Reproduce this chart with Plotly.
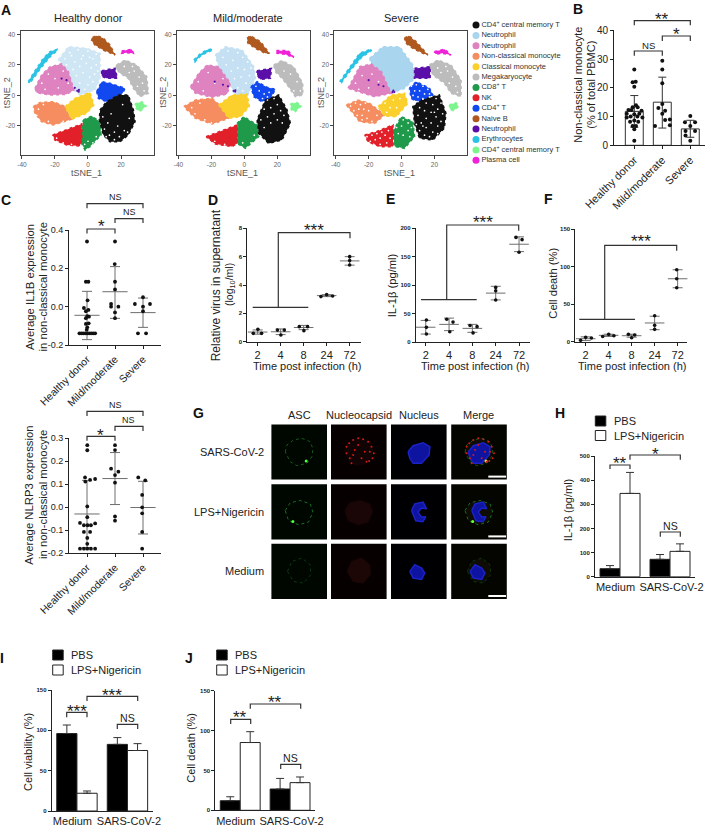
import plotly.graph_objects as go

W, H = 709, 827
FONT = "Liberation Sans"
INK = "#222222"
GREY = "#6e6e6e"

# panel A: cell types and colours of the legend
cell_types = ["CD4<sup>+</sup> central memory T", "Neutrophil", "Neutrophil", "Non-classical monocyte",
              "Classical monocyte", "Megakaryocyte", "CD8<sup>+</sup> T", "NK", "CD4<sup>+</sup> T", "Naive B",
              "Neutrophil", "Erythrocytes", "CD4<sup>+</sup> central memory T", "Plasma cell"]
cell_colors = ["#111111", "#a9d5ee", "#de82c0", "#f58d60", "#fbd02c", "#bcbcbc", "#1f9a4a", "#e2202a",
               "#1248f0", "#b0591f", "#5a10a8", "#2bc3e4", "#7df58e", "#f022d8"]

# panel A: cluster outlines, (tSNE_1, tSNE_2)
hd_ery = [(-36.2, 9), (-33.1, 14.5), (-27, 24.3), (-23, 28.7), (-18.6, 30.2), (-18.6, 29.3), (-22, 26.5), (-28, 18.8), (-33, 11.2), (-35.6, 8)]
hd_brown = [(2.8, 38), (5.3, 39.1), (9.3, 37.4), (13.3, 33), (16.4, 26.5), (14.3, 27.6), (9.3, 29.7), (4.2, 33), (2.2, 35.9)]
hd_plasma = [(20.4, 29), (26.5, 30.2), (27.5, 27.6), (23.4, 28), (20.4, 27.6)]
hd_purple = [(8.3, 16.2), (16.4, 17.7), (17.8, 11.2), (11.3, 11.2), (8.3, 12.7)]
hd_mega = [(17.4, 19.9), (22.4, 23.2), (29.5, 19.9), (35.6, 12.3), (36.6, 1.4), (31.5, -0.8), (27.5, 4.7), (24.4, 11.2), (19.4, 14.5), (17, 17.7)]
hd_pink = [(-32.1, 4.7), (-28.1, 13.4), (-23, 18.8), (-16, 20.6), (-11.9, 15.6), (-8.5, 3.6), (-12.9, 0.7), (-23, 0.3), (-31.1, 1.8)]
hd_lblue = [(-18, 23.2), (-11.9, 31.9), (-0.8, 30.8), (7.3, 27.6), (7.3, 11.2), (4.2, 3.6), (-4.9, 0.3), (-8.5, 3.6), (-11.9, 15.6), (-16, 20.6)]
hd_orange = [(-33.1, -7.3), (-29.1, -4.7), (-21, -4.1), (-13.9, -7.3), (-9.9, -15.6), (-21, -19.3), (-28.1, -17.2), (-32.1, -11.7)]
hd_yellow = [(-13.9, -7.3), (-7.9, -1.9), (1.2, 2), (3.6, -6.3), (-0.8, -11.7), (-9.9, -15.6)]
hd_green = [(-2.8, -16.1), (2.2, -13.5), (7.3, -17.2), (7.9, -25.9), (1.2, -33.5), (-1.8, -35.7), (-4.9, -29.2), (-3.8, -21.5)]
hd_red = [(-21.4, -25.9), (-15, -23.1), (-3.8, -18.7), (-3.8, -29.2), (-4.9, -33.1), (-12.9, -32.4), (-20, -29.2)]
hd_blue = [(5.3, 2.5), (8.3, 9), (13.3, 7.9), (22.4, 4.7), (21, 1.4), (15.4, -1.9), (11.3, -4.1), (6.3, -1.9)]
hd_black = [(18.4, 0.3), (24.4, 0.3), (27.5, -9.5), (28.5, -17.2), (24.4, -25.9), (19.4, -30.3), (13.3, -30.3), (9.3, -25.9), (6.9, -16.1), (7.3, -9.5), (11.3, -4.1)]
hd_lgreen = [(28.5, -5.6), (32.5, -4.1), (35.2, -6.9), (31.5, -10.6), (29.1, -8.4)]

mm_ery = [(-30.7, 23.2), (-27, 27), (-23, 29.7), (-19.6, 30.5), (-19.6, 29.5), (-23, 28), (-27, 25.5), (-30, 22)]
mm_brown = [(1.6, 37.4), (3.6, 39.1), (9.7, 35.2), (15.2, 27.6), (12.7, 27.6), (6.7, 30.8), (2.2, 34.1)]
mm_plasma = [(19.4, 29.3), (26.5, 29.3), (30, 24.9), (24.8, 26.9), (19.8, 27.6)]
mm_purple = [(7.7, 16.2), (16.4, 17.7), (15.8, 11.2), (9.7, 10.5), (7.7, 13.4)]
mm_mega = [(17.8, 19.9), (22.8, 22.8), (29.9, 18.8), (35.4, 7.9), (35.4, 0.3), (30.9, -0.8), (26.9, 5.7), (22.8, 11.2), (18.8, 15.6)]
mm_pink = [(-32.7, 5.7), (-27.7, 14.5), (-22.6, 19.9), (-15.6, 18.8), (-8.5, 7.9), (-10.5, 0.9), (-19.6, -1.2), (-29.7, 1.4)]
mm_lblue = [(-17.6, 26.5), (-11.5, 31.9), (-1.4, 29.7), (5.7, 18.8), (6.7, 11.2), (1.6, -0.8), (-6.5, 1.4), (-8.5, 7.9), (-15.6, 18.8)]
mm_orange = [(-36.8, -7.3), (-29.7, -3), (-19.6, -1.9), (-13.1, -8.4), (-9.5, -15), (-19.6, -18.7), (-29.7, -15)]
mm_yellow = [(-15.6, -6.3), (-7.5, 0.3), (1.6, 0.9), (3, -7.3), (-2.4, -13.9), (-9.5, -15)]
mm_green = [(-4.4, -18.3), (-0.4, -13.9), (7.7, -19.3), (8.7, -27), (0.6, -34.6), (-4.4, -31.4)]
mm_red = [(-23.2, -27), (-15.6, -23.7), (-4.4, -19.3), (-4.4, -31.4), (-7.5, -33.5), (-17.6, -31.8)]
mm_blue = [(4, 5.7), (7.7, 9), (13.7, 5.3), (18.8, 4), (15.8, -1.9), (10.7, -4.1), (5.7, -0.8)]
mm_black = [(12.7, -3), (20.8, 0.3), (25.9, -9.5), (27.9, -18.3), (22.8, -29.2), (14.7, -31.4), (8.7, -24.8), (7.7, -16.1)]
mm_lgreen = [(27.9, -5.6), (31.9, -4.7), (34.5, -6.9), (30.9, -10.6), (28.5, -9.5)]

sv_ery = [(-37.6, 9), (-31.5, 18.8), (-25.5, 27.6), (-18.4, 30.4), (-18.4, 29.3), (-24.4, 24.9), (-30.5, 17.1), (-36.6, 8.4)]
sv_brown = [(1.8, 37.4), (4.4, 39.1), (8.9, 35.2), (16, 26.5), (13, 27.6), (6.9, 30.8), (2.8, 34.1)]
sv_plasma = [(20, 28.7), (26.1, 30.2), (30.1, 26.5), (25, 27.6), (20.6, 27.1)]
sv_purple = [(7.9, 17.7), (17.4, 18.8), (17.4, 11.2), (7.9, 11.2)]
sv_mega = [(17, 19.9), (22, 23.2), (30.1, 19.9), (36.2, 10.1), (36.2, -0.8), (30.1, 1.4), (26.1, 7.9), (19, 13.4)]
sv_pink = [(-32.5, 4.7), (-30.5, 9), (-25.5, 18.8), (-18.4, 20.6), (-12.3, 15.6), (-6.2, 1.4), (-16.4, -0.8), (-26.5, 2.5)]
sv_lblue = [(-19.4, 24.3), (-11.3, 31.9), (-1.2, 31.9), (6.9, 19.9), (7.9, 11.2), (1.8, 4.7), (-6.2, 1.4), (-12.3, 15.6), (-18.4, 20.6)]
sv_orange = [(-33.5, -6.3), (-26.5, -3), (-19.4, -5.2), (-10.3, -12.8), (-16.4, -18.3), (-25.5, -17.2)]
sv_yellow = [(-14.3, -7.3), (-6.2, 0.3), (1.8, 1.4), (3.8, -5.2), (-3.2, -13.9), (-10.3, -13.5)]
sv_green = [(-5.2, -23.7), (-0.2, -13.9), (6.9, -17.2), (7.9, -27), (1.8, -34.6), (-4.2, -33.5)]
sv_red = [(-22.4, -25.9), (-15.3, -23.7), (-5.2, -19.3), (-5.2, -33.5), (-13.3, -33.5), (-20.4, -30.3)]
sv_blue = [(4.8, 4.7), (8.9, 9), (17, 4.7), (19, 0.3), (10.9, -5.2), (5.9, -1.9)]
sv_black = [(11.9, -3), (23, 0.3), (27, -11.7), (26, -21.5), (19, -29.2), (10.9, -28), (7.9, -18.3), (6.9, -7.3)]
sv_lgreen = [(29.1, -6.3), (33.1, -4.7), (34.7, -7.3), (31.5, -10), (29.5, -9.1)]

hd_gaps = [(-14, 24), (-11, 28), (-8, 22), (-6, 30), (-3, 26), (0, 29), (3, 24), (5, 27), (-13, 20), (-9, 17), (-5, 19), (-1, 21), (2, 18), (5, 20),
           (-7, 13), (-3, 15), (1, 12), (4, 14), (-5, 8), (0, 7), (3, 9), (-2, 4), (-10, 26), (-4, 24), (1, 25), (6, 16),
           (10, -22), (13, -26), (16, -24), (19, -27), (22, -23), (12, -18), (18, -20), (25, -15), (14, -12), (9, -14), (21, -6), (24, -24), (16, -29), (11, -27),
           (-30, -9), (-27, -6), (-31, -13), (-24, -17), (-15, -17), (-19, -28), (-15, -31), (-10, -32), (-2, -32), (0, -30), (3, -31), (5, -27),
           (25, 15), (28, 16), (31, 12), (33, 8), (34, 3), (30, 6), (22, 19), (27, 19), (-28, 8), (-24, 14), (-20, 11), (-15, 16), (-26, 4), (-18, 5), (-12, 8)]
mm_gaps = [(-13, 25), (-10, 29), (-7, 23), (-4, 28), (-1, 25), (2, 22), (4, 18), (-11, 20), (-8, 16), (-4, 18), (0, 17), (3, 13), (-6, 11), (-2, 12), (1, 8), (-4, 5), (-1, 3),
           (14, -3), (18, -2), (20, -6), (16, -8), (12, -9), (22, -10), (18, -12), (14, -14), (24, -13), (10, -16), (20, -16), (16, -18), (23, -18), (12, -21),
           (9, 3), (12, 1), (15, 2), (11, -2), (14, -1), (7, 6),
           (-32, -8), (-27, -5), (-30, -12), (-24, -16), (-20, -18), (-18, -30), (-12, -32), (4, -31), (6, -26), (-1, -31),
           (24, 16), (28, 14), (32, 9), (34, 3), (30, 3), (-28, 9), (-22, 15), (-18, 8), (-25, 3), (-13, 11)]
sv_gaps = [(13, -2), (17, -1), (21, -2), (24, -5), (15, -5), (19, -6), (11, -8), (22, -9), (14, -10), (18, -11), (25, -12), (10, -13), (21, -14), (15, -15), (24, -17), (12, -18),
           (18, -18), (9, -19), (22, -20), (15, -21), (11, -23), (19, -24), (14, -26), (22, -25), (17, -27), (13, -20), (20, -11), (10, -4),
           (6, 6), (9, 7), (13, 6), (16, 4), (8, 3), (11, 3), (14, 1), (17, 1), (7, 0), (10, -1), (13, -2.5), (9, -4),
           (-31, -7), (-28, -5), (-25, -6), (-22, -5), (-29, -10), (-26, -9), (-23, -9), (-27, -13), (-24, -13), (-20, -10), (-21, -15), (-18, -17), (-24, -16), (-15, -13),
           (-21, -27), (-18, -26), (-15, -25), (-12, -24), (-19, -30), (-16, -29), (-13, -28), (-10, -26), (-8, -23), (-17, -32), (-13, -32), (-9, -31), (-7, -28),
           (-3, -17), (1, -16), (4, -18), (-3, -21), (0, -20), (4, -23), (6, -21), (-2, -25), (1, -26), (5, -27),
           (24, 15), (28, 16), (31, 12), (33, 6), (34, 2), (29, 8), (22, 18), (27, 19), (-28, 8), (-24, 13), (-20, 5), (-14, 9), (-26, 4), (-18, 14),
           (-10, -5), (-5, -3), (-1, -2), (-7, -8), (-3, -8), (-9, -11)]
hd_strays = [(-6.5, 3), (-5.5, 3.6), (-16, 11), (-13, 10), (-8, 5), (-5.6, 2.4)]
mm_strays = [(-6.5, 3), (-5.5, 3.4), (-18, 9), (-13, 7), (-10, 6), (-5.6, 2.5)]
sv_strays = [(-5.5, 2.2), (-5, 3.2), (-4.4, 2.2), (-20, 10), (-11, 6), (-14, 7)]

# panel B and C groups
groups = ["Healthy donor", "Mild/moderate", "Severe"]

b_means = [11.8, 15, 5.7]
b_up = [5.5, 8.7, 3.0]
b_down = [5.5, 9.0, 2.9]
b_x = [0, -.06, .05, 0, -.06, .06, .12, -.21, -.1, .26, .18, -.27, 0, -.13, .11, -.27, .29, 0, -.15, .14, -.06, .06, 0, 0,
       1, 1, 1, 1, .86, 1.1, 1, .74, 1.1, 1.27, 1.27,
       2, 1.81, 2.17, 2, 1.83, 2.17, 1.83, 2]
b_y = [26.4, 21.9, 22.1, 20.4, 13.2, 13.9, 13.2, 12.3, 12.3, 12, 11, 11, 10.8, 10, 10, 9.7, 9.7, 8.6, 8.2, 8.2, 6.7, 6.7, 5.6, 1.6,
       29.4, 26.4, 21.6, 14.4, 13, 12, 11, 6.7, 8.8, 7, 9,
       10.2, 8, 8, 6.7, 5, 5, 3.4, 1.6]

c1_means = [-0.045, 0.078, -0.031]
c1_up = [0.125, 0.131, 0.076]
c1_down = [0.127, 0.139, 0.077]
c1_x = [0, -.04, .05, .02, -.11, .05, -.04, .01, -.04, .07, -.04, .06, .01, -.01,
        -.27, -.2, -.13, -.06, .01, .08, .15, .22, .29,
        1, .99, 1, 1, .86, .86, 1.12, 1, 1,
        2, 1.71, 2.25, 2, 2, 1.82, 2.11]
c1_y = [0.34, 0.13, 0.13, 0.033, -0.007, -0.017, -0.024, -0.05, -0.06, -0.052, -0.09, -0.087, -0.108, -0.12,
        -0.139, -0.139, -0.139, -0.139, -0.139, -0.139, -0.139, -0.139, -0.139,
        0.34, 0.222, 0.13, 0.09, 0.014, 0, 0, -0.03, -0.06,
        0.049, 0.014, 0.014, 0, -0.024, -0.139, -0.139]

c2_means = [-0.029, 0.125, -0.001]
c2_up = [0.146, 0.113, 0.114]
c2_down = [0.146, 0.113, 0.115]
c2_x = [.01, .01, -.07, .11, -.06, .29, .01, .01, -.25, .29, -.11, .02, .14, -.11, .11, .01, .01, -.25, -.11, .01, .14, .29,
        1, 1, .86, 1.12, 1, 1, 1, 1,
        1.83, 2.08, 1.97, 1.97, 1.97, 1.97, 1.97]
c2_y = [0.27, 0.248, 0.13, 0.119, 0.112, 0.123, 0.004, -0.043, -0.068, -0.07, -0.078, -0.078, -0.078, -0.107, -0.107, -0.133, -0.159, -0.18, -0.18, -0.18, -0.18, -0.18,
        0.27, 0.249, 0.168, 0.155, 0.14, 0.107, -0.04, -0.058,
        0.13, 0.117, 0.054, 0, -0.026, -0.107, -0.18]

# panels D, E, F: time course
hours = ["2", "4", "8", "24", "72"]

d_means = [0.68, 0.7, 1.0, 3.25, 5.7]
d_sd = [0.15, 0.2, 0.15, 0.07, 0.3]
d_x = [-.19, .01, .17, 0.86, 1.16, 1.01, 1.81, 2.17, 2.01, 2.75, 3, 3.26, 4, 4, 4]
d_y = [.59, .87, .59, .82, .82, .47, 1.06, 1.06, .78, 3.18, 3.32, 3.22, 6, 5.72, 5.41]

e_means = [26, 31, 24, 86, 172]
e_sd = [12, 11, 7, 12, 13]
e_x = [.03, .03, .03, .9, 1.17, 1.03, 1.9, 2.2, 2.03, 3, 3, 3, 3.87, 4.13, 4]
e_y = [38.7, 25.8, 14, 40, 35, 18, 29, 27, 16, 96, 90, 74, 184, 180, 158]

f_means = [4, 8.5, 8, 25, 84]
f_sd = [2.5, 1.5, 2, 9, 12]
f_x = [-.22, 0, .25, .74, 1, 1.23, 1.86, 2, 2.13, 3, 3, 3, 3.96, 3.96, 3.96]
f_y = [1.8, 5.8, 4.9, 7, 9.8, 8, 9.8, 5.3, 8.9, 34.7, 21.8, 16.5, 96, 84, 72]

# panels H, I, J: bars
conditions = ["Medium", "SARS-CoV-2"]
treatments = ["PBS", "LPS+Nigericin"]
h_pbs, h_pbs_err = [33, 72], [13, 20]
h_lps, h_lps_err = [345, 105], [87, 31]
i_pbs, i_pbs_err = [96, 82.6], [10.6, 8.4]
i_lps, i_lps_err = [22, 75], [2.8, 8.5]
j_pbs, j_pbs_err = [12, 26.7], [5, 13.3]
j_lps, j_lps_err = [85, 34.7], [13.6, 7.1]

stains = ["ASC", "Nucleocapsid", "Nucleus", "Merge"]
treat_rows = ["SARS-CoV-2", "LPS+Nigericin", "Medium"]
ring_sars = [(-14, 0), (-12.3, -7), (-5.7, -12), (2.7, -13.7), (11, -10.3), (13.7, -3.3), (12.7, 4.7), (7.7, 11.3), (-2.3, 13.7), (-9, 9.7), (-14, 0)]
ring_lps = [(-14, -1.3), (-9, -9), (1, -11.3), (11, -8), (13.7, 0.3), (9.3, 10.3), (-0.7, 13), (-10.7, 8.7), (-14, -1.3)]
ring_med = [(-11.7, 0), (-7.3, -10), (2.7, -13.3), (11, -6.7), (11.7, 3.3), (4.3, 11.7), (-5.7, 10), (-11.7, 0)]
nuc_sars = [(-10.7, -0.3), (-5.7, -6.3), (4.3, -9.3), (11, -5.3), (10.3, 3), (2.7, 11.3), (-5.7, 11.3), (-9, 6.3), (-10.7, -0.3)]
nuc_lps = [(-7.3, -1.3), (-4, -8), (4.3, -9.7), (7.7, -3), (2.7, -3.7), (-0.7, 0.3), (2.7, 5.3), (7, 5), (4, 10), (-3, 9), (-7.3, -1.3)]
nuc_med = [(-9, 0), (-4, -6.7), (2.7, -3.3), (6, 1.7), (2.7, 8), (-5.7, 6.7), (-9, 0)]
red_sars = [(-12.3, -5.3), (-9.7, -8.7), (-5.7, -12), (-0.7, -13.7), (4.3, -12.7), (9.3, -10.3), (12.7, -5.3), (15, 1.3), (13.7, 6.3), (10.3, 9),
            (7.7, 9.7), (-7.3, 11.3), (-12.3, 1.3), (-9, 6.3), (-4, -2), (-0.7, -7), (6, -0.3), (2.7, 6.3), (-5.7, 3), (11, -0.3)]
asc_spot_sars = (7, 9)
asc_spot_lps = (-6.3, 9.7)
image_cols = [299.2, 358.8, 418.8, 479]
image_rows = [452, 511.8, 571.4]


def px(x):
    return x / W


def py(y):
    return 1 - y / H


fig = go.Figure()
shapes = []
notes = []
next_axis = [2]


def panel(x0, x1, y0, y1, xr, yr, xticks=None, xlabels=None, yticks=None, ylabels=None, xfont=10, yfont=10,
          ybold=False, box=False, ink=INK, tickcolor=None, xangle=0, visible=True, xticklen=3):
    n = next_axis[0]
    next_axis[0] += 1
    font_x = dict(family=FONT, size=xfont, color=tickcolor or INK)
    font_y = dict(family=FONT, size=yfont, color=tickcolor or INK, weight=700 if ybold else 400)
    fig.update_layout({
        f"xaxis{n}": dict(domain=[px(x0), px(x1)], range=xr, anchor=f"y{n}", tickmode="array", tickvals=xticks,
                          ticktext=xlabels, showgrid=False, zeroline=False, showline=True, linecolor=ink, linewidth=1,
                          ticks="outside" if xticklen else "", ticklen=xticklen, tickcolor=ink, tickfont=font_x,
                          tickangle=xangle, mirror=box, visible=visible, fixedrange=True),
        f"yaxis{n}": dict(domain=[py(y1), py(y0)], range=yr, anchor=f"x{n}", tickmode="array", tickvals=yticks,
                          ticktext=ylabels, showgrid=False, zeroline=False, showline=True, linecolor=ink, linewidth=1,
                          ticks="outside", ticklen=3, tickcolor=ink, tickfont=font_y, mirror=box,
                          visible=visible, fixedrange=True),
    })
    return f"x{n}", f"y{n}"


def note(x, y, text, size=11, angle=0, anchor="center", bold=False, color=INK):
    notes.append(dict(x=px(x), y=py(y), xref="paper", yref="paper", text=text, showarrow=False, textangle=angle,
                      xanchor=anchor, yanchor="middle", font=dict(family=FONT, size=size, color=color,
                                                                  weight=700 if bold else 400)))


def line_path(*pts):
    path = "M " + " L ".join(f"{px(x)} {py(y)}" for x, y in pts)
    shapes.append(dict(type="path", path=path, xref="paper", yref="paper", line=dict(color="#333333", width=1.2)))


def bracket(x0, x1, y, drop, label=None, label_x=None, label_y=None, size=10):
    line_path((x0, y + drop), (x0, y), (x1, y), (x1, y + drop))
    if label:
        note(label_x if label_x is not None else (x0 + x1) / 2, label_y, label, size=size)


def dots(xa, ya, x, y, size=4):
    fig.add_trace(go.Scatter(x=x, y=y, xaxis=xa, yaxis=ya, mode="markers", cliponaxis=False, showlegend=False,
                             marker=dict(color="#111111", size=size)))


def mean_sd(xa, ya, means, up, down, wide=18):
    fig.add_trace(go.Scatter(x=list(range(len(means))), y=means, xaxis=xa, yaxis=ya, mode="markers", cliponaxis=False,
                             showlegend=False,
                             marker=dict(symbol="line-ew", size=wide, line=dict(color=GREY, width=1), color=GREY),
                             error_y=dict(type="data", symmetric=False, array=up, arrayminus=down, color=GREY,
                                          thickness=1, width=5)))


def cluster(xa, ya, pts, color):
    xs = [p[0] for p in pts] + [pts[0][0]]
    ys = [p[1] for p in pts] + [pts[0][1]]
    fig.add_trace(go.Scatter(x=xs, y=ys, xaxis=xa, yaxis=ya, mode="lines", showlegend=False, fill="toself",
                             fillcolor=color, line=dict(color=color, width=1.6, dash="dot")))


def specks(xa, ya, pts, color, size):
    fig.add_trace(go.Scatter(x=[p[0] for p in pts], y=[p[1] for p in pts], xaxis=xa, yaxis=ya, mode="markers",
                             showlegend=False, marker=dict(color=color, size=size)))


# ---- A
TSNE_X = [-40, -20, 0, 20]
TSNE_Y = [-20, 0, 20, 40]
tsne_boxes = [(20.5, 154, "Healthy donor", 88.7), (177, 310.3, "Mild/moderate", 247.7), (334.3, 467.3, "Severe", 401)]
hd_set = [hd_lblue, hd_pink, hd_orange, hd_yellow, hd_mega, hd_green, hd_red, hd_blue, hd_black, hd_brown, hd_purple, hd_ery, hd_lgreen, hd_plasma]
mm_set = [mm_lblue, mm_pink, mm_orange, mm_yellow, mm_mega, mm_green, mm_red, mm_blue, mm_black, mm_brown, mm_purple, mm_ery, mm_lgreen, mm_plasma]
sv_set = [sv_lblue, sv_pink, sv_orange, sv_yellow, sv_mega, sv_green, sv_red, sv_blue, sv_black, sv_brown, sv_purple, sv_ery, sv_lgreen, sv_plasma]
set_colors = [cell_colors[i] for i in [1, 2, 3, 4, 5, 6, 7, 8, 0, 9, 10, 11, 12, 13]]
first_colors = ["#cfe6f5", "#c4e0f2", cell_colors[1]]

for (x0, x1, title, title_x), cset, gaps, strays, first in zip(tsne_boxes, [hd_set, mm_set, sv_set], [hd_gaps, mm_gaps, sv_gaps],
                                                                [hd_strays, mm_strays, sv_strays], first_colors):
    xa, ya = panel(x0, x1, 30.5, 155, [-40.9, 40], [-39, 42.5], TSNE_X, [str(v) for v in TSNE_X], TSNE_Y,
                   [str(v) for v in TSNE_Y], xfont=6.5, yfont=6.5, box=True, ink="#444444", tickcolor="#666666")
    for pts, col in zip(cset, set_colors):
        cluster(xa, ya, pts, first if col == cell_colors[1] else col)
    specks(xa, ya, gaps, "white", 1.7)
    specks(xa, ya, strays, cell_colors[10], 2.2)
    note(title_x, 18.3, title, size=11)
    note((x0 + x1) / 2 - 1, 173, "tSNE_1", size=9, color="#555555")
    note(x0 - 14, 92.7, "tSNE_2", size=9, angle=-90, color="#555555")

# legend of A, one row per cell type
n_types = len(cell_types)
xa, ya = panel(470, 600, 25, 160.3, [0, 1], [n_types - 1, 0], visible=False)
fig.add_trace(go.Scatter(x=[6 / 130] * n_types, y=list(range(n_types)), xaxis=xa, yaxis=ya, mode="markers+text",
                         text=cell_types, textposition="middle right", cliponaxis=False,
                         showlegend=False, textfont=dict(family=FONT, size=7.5, color="#333333"),
                         marker=dict(color=cell_colors, size=7)))

# ---- B
xa, ya = panel(614, 705, 30.3, 145.3, [-0.725, 2.525], [0, 40], [0, 1, 2], groups, [0, 10, 20, 30, 40],
               ["0", "10", "20", "30", "40"], xfont=11, yfont=10, xangle=-45)
fig.add_trace(go.Bar(x=[0, 1, 2], y=b_means, xaxis=xa, yaxis=ya, width=0.64, showlegend=False,
                     marker=dict(color="white", line=dict(color="#333333", width=1)),
                     error_y=dict(type="data", symmetric=False, array=b_up, arrayminus=b_down, color="#333333",
                                  thickness=1, width=4)))
dots(xa, ya, b_x, b_y)
note(577.7, 85, "Non-classical monocyte", angle=-90)
note(590.7, 85, "(% of total PBMC)", angle=-90)
bracket(634.3, 690.3, 20.7, 4.5, "**", 662, 19, size=17)
bracket(662.3, 690.3, 36, 5, "*", 676, 35, size=17)
bracket(634.3, 662.3, 51, 4.7, "NS", 648.3, 45, size=9.6)

# ---- C
xa, ya = panel(69, 161, 230, 345, [-0.643, 2.643], [-0.2, 0.4], [0, 1, 2], groups, [-0.2, 0, 0.2, 0.4],
               ["-0.2", "0.0", "0.2", "0.4"], xfont=10.5, yfont=9, xangle=-45)
mean_sd(xa, ya, c1_means, c1_up, c1_down)
dots(xa, ya, c1_x, c1_y, size=3.8)
note(29.3, 286.7, "Average IL1B expression", size=11.3, angle=-90)
note(42.7, 286.7, "in non-classical monocyte", size=11.3, angle=-90)
bracket(87, 143, 203.7, 4.6, "NS", 115, 197.3, size=9)
bracket(115, 143, 218.7, 4.4, "NS", 129, 212.3, size=9)
bracket(87, 115, 229, 4.4, "*", 101, 227, size=17)

xa, ya = panel(69, 161, 438.3, 553.3, [-0.643, 2.643], [-0.2, 0.3], [0, 1, 2], groups,
               [-0.2, -0.1, 0, 0.1, 0.2, 0.3], ["-0.2", "-0.1", "0.0", "0.1", "0.2", "0.3"], xfont=10.5, yfont=9, xangle=-45)
mean_sd(xa, ya, c2_means, c2_up, c2_down)
dots(xa, ya, c2_x, c2_y, size=3.8)
note(28.7, 495, "Average NLRP3 expression", size=11.3, angle=-90)
note(43, 495, "in non-classical monocyte", size=11.3, angle=-90)
bracket(87, 143, 411.3, 4.7, "NS", 115, 405, size=9)
bracket(115, 143, 426.3, 4.7, "NS", 128.3, 420.3, size=9)
bracket(87, 115, 436.3, 4.4, "*", 100.7, 435, size=17)

# ---- D, E, F
TIME_X = [0, 1, 2, 3, 4]
xa, ya = panel(247.3, 360.7, 228.3, 341.7, [-0.45, 4.48], [0, 8], TIME_X, hours, [0, 2, 4, 6, 8],
               ["0", "2", "4", "6", "8"], xfont=11, yfont=6, ybold=True)
mean_sd(xa, ya, d_means, d_sd, d_sd, wide=14)
dots(xa, ya, d_x, d_y, size=3.6)
note(216.3, 285, "Relative virus in supernatant", size=12, angle=-90)
note(230, 285, "(log<sub>10</sub>/ml)", size=10.5, angle=-90)
note(306.7, 366, "Time post infection (h)", size=11)
line_path((252.7, 307.3), (308.3, 307.3))
line_path((278.3, 307.3), (278.3, 232.7), (350, 232.7), (350, 238.3))
note(314, 230, "***", size=17)

xa, ya = panel(415.7, 530, 228.3, 342, [-0.43, 4.47], [0, 200], TIME_X, hours, [0, 50, 100, 150, 200],
               ["0", "50", "100", "150", "200"], xfont=11, yfont=6, ybold=True)
mean_sd(xa, ya, e_means, e_sd, e_sd, wide=14)
dots(xa, ya, e_x, e_y, size=3.6)
note(392.3, 285, "IL-1β (pg/ml)", size=11.2, angle=-90)
note(474.7, 366, "Time post infection (h)", size=11)
line_path((421, 299.7), (476.7, 299.7))
line_path((446.7, 299.7), (446.7, 225), (518.7, 225), (518.7, 230.7))
note(482.7, 222, "***", size=17)

xa, ya = panel(575.3, 687.3, 229.3, 341.7, [-0.45, 4.42], [0, 150], TIME_X, hours, [0, 50, 100, 150],
               ["0", "50", "100", "150"], xfont=11, yfont=6, ybold=True)
mean_sd(xa, ya, f_means, f_sd, f_sd, wide=14)
dots(xa, ya, f_x, f_y, size=3.6)
note(552.7, 283, "Cell death (%)", size=11.2, angle=-90)
note(631.7, 366, "Time post infection (h)", size=11)
line_path((579.3, 319.3), (635, 319.3))
line_path((604.7, 319.3), (604.7, 245.3), (676.7, 245.3), (676.7, 250.7))
note(640.7, 242, "***", size=17)

# ---- G, one axis across the micrograph grid in image pixels
xa, ya = panel(271.3, 507, 424.3, 599, [271.3, 507], [599, 424.3], visible=False)
tints = ["#000700", "#070000", "#000002", "#050500"]
for cx, tint, name in zip(image_cols, tints, stains):
    note(cx, 415, name)
    for cy in image_rows:
        shapes.append(dict(type="rect", x0=px(cx - 27.8), x1=px(cx + 27.8), y0=py(cy + 27.6), y1=py(cy - 27.6), xref="paper",
                           yref="paper", fillcolor=tint, line=dict(width=0), layer="below"))
for cy, name in zip(image_rows, treat_rows):
    note(266, cy, name, anchor="right")
    shapes.append(dict(type="rect", x0=px(488.3), x1=px(506), y0=py(cy + 25.6), y1=py(cy + 23.6), xref="paper", yref="paper",
                       fillcolor="white", line=dict(width=0)))


def outline(pts, cx, cy, color, width=1.0, fill=None, dash="solid"):
    kw = dict(fill="toself", fillcolor=fill) if fill else {}
    fig.add_trace(go.Scatter(x=[cx + p[0] for p in pts], y=[cy + p[1] for p in pts], xaxis=xa, yaxis=ya, mode="lines",
                             showlegend=False, line=dict(color=color, width=width, dash=dash), **kw))


def spots(pts, cx, cy, color, size):
    fig.add_trace(go.Scatter(x=[cx + p[0] for p in pts], y=[cy + p[1] for p in pts], xaxis=xa, yaxis=ya, mode="markers",
                             showlegend=False, marker=dict(color=color, size=size)))


rings = [ring_sars, ring_lps, ring_med]
nuclei = [nuc_sars, nuc_lps, nuc_med]
green = ["#125c18", "#177020", "#0c3810"]
haze = ["#120404", "#1a0606", "#1c0606"]
bright = [asc_spot_sars, asc_spot_lps, None]
for r, cy in enumerate(image_rows):
    ring, nuc = rings[r], nuclei[r]
    outline(ring, image_cols[0], cy, green[r], dash="dot")
    outline(ring, image_cols[1], cy, haze[r], fill=haze[r])
    outline(nuc, image_cols[2], cy, "#1a22c8", width=1.5, fill="#0f14a0")
    outline(ring, image_cols[3], cy, green[r], fill="#0e0c04", dash="dot")
    outline(nuc, image_cols[3], cy, "#1a22c8", width=1.5, fill="#0f14a0")
    if bright[r]:
        spots([bright[r]], image_cols[0], cy, "#4cff40", 3)
        spots([bright[r]], image_cols[3], cy, "#70ff40" if r else "#e8e830", 3)
spots(red_sars, image_cols[1], image_rows[0], "#d81818", 2)
spots(red_sars, image_cols[3], image_rows[0], "#d81818", 2)


# ---- H, I, J
def bars(x0, x1, y0, y1, ymax, yticks, pbs, pbs_err, lps, lps_err):
    # the two labels sit a little away from the group centres in the original
    xa, ya = panel(x0, x1, y0, y1, [-0.5, 1.5], [0, ymax], [-0.09, 1.03], conditions, yticks, [str(v) for v in yticks],
                   xfont=11, yfont=6, ybold=True, xticklen=0)
    for name, vals, errs, col in [(treatments[0], pbs, pbs_err, "black"), (treatments[1], lps, lps_err, "white")]:
        fig.add_trace(go.Bar(x=[0, 1], y=vals, name=name, xaxis=xa, yaxis=ya, offsetgroup=name, showlegend=False,
                             marker=dict(color=col, line=dict(color="#222222", width=1)),
                             error_y=dict(type="data", symmetric=False, array=errs, arrayminus=[0, 0],
                                          color="#333333", thickness=1, width=4)))


def key(x, y1, y2):
    for y, col, label in [(y1, "black", treatments[0]), (y2, "white", treatments[1])]:
        shapes.append(dict(type="rect", x0=px(x), x1=px(x + 10.5), y0=py(y + 5), y1=py(y - 5), xref="paper", yref="paper",
                           fillcolor=col, line=dict(color="#222222", width=1)))
        note(x + 16.5, y, label, anchor="left")


bars(595, 695, 456, 576.7, 500, [0, 100, 200, 300, 400, 500], h_pbs, h_pbs_err, h_lps, h_lps_err)
key(595.3, 421, 435.5)
note(568.3, 510, "IL-1β (pg/ml)", angle=-90)
bracket(610, 630, 465, 4, "**", 620, 463.5, size=17)
bracket(630, 680.3, 455, 4.7, "*", 655, 454, size=17)
bracket(660.3, 680.3, 532, 4.7, "NS", 670, 525.7, size=10.6)

bars(51.7, 152.7, 690, 811, 150, [0, 50, 100, 150], i_pbs, i_pbs_err, i_lps, i_lps_err)
key(52.7, 655, 670)
note(27.3, 751.7, "Cell viability (%)", angle=-90)
bracket(66.7, 87, 712.3, 5, "***", 77, 711.5, size=17)
bracket(87, 137.7, 696.3, 4.7, "***", 112, 695.5, size=17)
bracket(117.3, 137.7, 724.3, 4.7, "NS", 127, 717.7, size=10.6)

bars(215.3, 315, 690.7, 810.3, 150, [0, 50, 100, 150], j_pbs, j_pbs_err, j_lps, j_lps_err)
key(216.7, 655, 670)
note(190.7, 748, "Cell death (%)", angle=-90)
bracket(230.7, 250.7, 719.3, 4.7, "**", 240.3, 717.5, size=17)
bracket(250.3, 300.7, 704, 4.7, "**", 275.3, 702.5, size=17)
bracket(280.7, 300.7, 764.3, 4.7, "NS", 290, 758, size=10.6)

# panel letters
for letter, x, y in [("A", 6, 10), ("B", 577.7, 9), ("C", 6, 200), ("D", 213.3, 200), ("E", 390, 199), ("F", 548.7, 199),
                     ("G", 198.7, 412.7), ("H", 560.3, 412.7), ("I", 2, 658), ("J", 189.3, 658)]:
    note(x, y, letter, size=14, bold=True, color="#111111")

fig.update_layout(width=W, height=H, margin=dict(l=0, r=0, t=0, b=0), paper_bgcolor="white",
                  plot_bgcolor="rgba(0,0,0,0)", template="none", barmode="group", bargap=0.2, bargroupgap=0,
                  showlegend=False, shapes=shapes, annotations=notes, font=dict(family=FONT))

fig.write_html("out.html", config={"displayModeBar": False},
               post_script="document.body.style.margin='0';document.body.style.overflow='hidden';")
